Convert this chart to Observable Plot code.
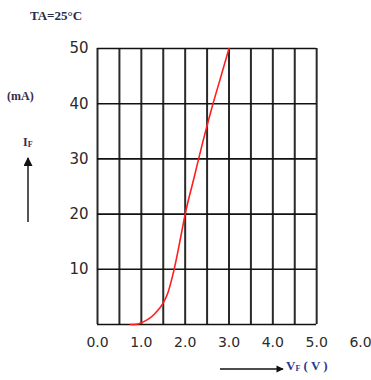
<!DOCTYPE html>
<html><head><meta charset="utf-8">
<script src="https://cdn.jsdelivr.net/npm/d3@7"></script>
<script src="https://cdn.jsdelivr.net/npm/@observablehq/plot@0.6"></script>
<style>body{margin:0;background:#fff;} svg{display:block;}</style>
</head><body><div id="chart"></div>
<script>
const vf = [0.75, 0.9, 1.0, 1.1, 1.2, 1.3, 1.4, 1.5, 1.6, 1.7, 1.8, 1.9, 2.0, 2.2, 2.4, 2.6, 2.8, 3.0];
const iF = [0, 0.05, 0.3, 0.7, 1.2, 1.9, 2.8, 3.9, 5.6, 8.4, 11.9, 15.9, 20, 26.5, 33, 39, 44.5, 50];
const xTicks = [0, 1, 2, 3, 4, 5, 6];
const yTicks = [10, 20, 30, 40, 50];
const xGrid = [0, 0.5, 1, 1.5, 2, 2.5, 3, 3.5, 4, 4.5, 5];
const yGrid = [0, 10, 20, 30, 40, 50];

const data = vf.map((v, i) => ({v, i: iF[i]}));

const plot = Plot.plot({
  width: 371, height: 380,
  marginLeft: 97, marginRight: 11, marginTop: 48, marginBottom: 56,
  x: {domain: [0, 6], label: null},
  y: {domain: [0, 50], label: null},
  style: {fontFamily: "DejaVu Sans", fontSize: "15px", color: "#2a2a2a", background: "#fff"},
  marks: [
    Plot.ruleX(xGrid, {y1: 0, y2: 50, stroke: "#2a2a2a", strokeWidth: 2}),
    Plot.ruleY(yGrid, {x1: 0, x2: 5, stroke: "#111", strokeWidth: 1.6}),
    Plot.line(data, {x: "v", y: "i", stroke: "#ff1e1e", strokeWidth: 1.6, curve: "monotone-x"}),
    Plot.axisX({ticks: xTicks, tickFormat: d => d.toFixed(1), tickSize: 0, tickPadding: 13, fontSize: 14}),
    Plot.axisY({ticks: yTicks, tickSize: 0, tickPadding: 9, fontSize: 15})
  ]
});
document.getElementById("chart").appendChild(plot);

const svg = d3.select(plot);
const defs = svg.append("defs");
defs.append("marker").attr("id", "ah").attr("viewBox", "0 0 10 10").attr("refX", 9).attr("refY", 5)
  .attr("markerWidth", 5).attr("markerHeight", 4.5).attr("orient", "auto-start-reverse")
  .attr("markerUnits", "strokeWidth")
  .append("path").attr("d", "M0,0L10,5L0,10z").attr("fill", "#111");

const serif = "'Liberation Serif', serif";
const g = svg.append("g").attr("text-anchor", "start");
g.append("text").attr("x", 30).attr("y", 20).attr("font-family", serif).attr("font-weight", "bold")
  .attr("font-size", 13).attr("fill", "#2a2a4a").text("TA=25°C");
g.append("text").attr("x", 7).attr("y", 100).attr("font-family", serif).attr("font-weight", "bold")
  .attr("font-size", 12).attr("fill", "#3a2a4a").text("(mA)");
const t = g.append("text").attr("x", 23).attr("y", 146).attr("font-family", serif).attr("font-weight", "bold")
  .attr("font-size", 12).attr("fill", "#3a2a4a");
t.append("tspan").text("I");
t.append("tspan").attr("font-size", 8).attr("dy", 1).text("F");
g.append("line").attr("x1", 28).attr("x2", 28).attr("y1", 222).attr("y2", 158)
  .attr("stroke", "#555").attr("stroke-width", 2).attr("marker-end", "url(#ah)");
g.append("line").attr("x1", 220).attr("x2", 283).attr("y1", 369).attr("y2", 369)
  .attr("stroke", "#111").attr("stroke-width", 1.6).attr("marker-end", "url(#ah)");
const v = g.append("text").attr("x", 286).attr("y", 370).attr("font-family", serif).attr("font-weight", "bold")
  .attr("font-size", 13).attr("fill", "#2a3a8a");
v.append("tspan").text("V");
v.append("tspan").attr("font-size", 8).attr("dy", 1).text("F");
v.append("tspan").attr("dy", -1).text(" ( V )");
</script></body></html>
